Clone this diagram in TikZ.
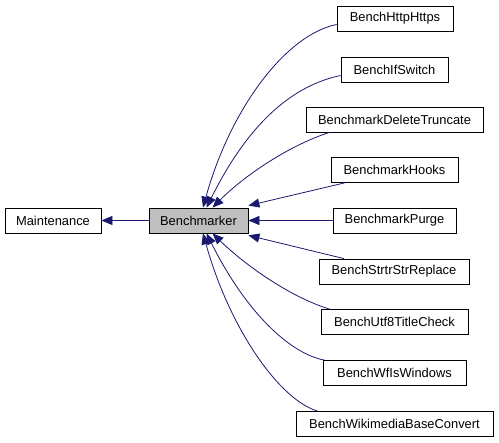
\documentclass[tikz,border=0pt]{standalone}
\usepackage{fontspec}
\setmainfont{Liberation Sans}
\usetikzlibrary{arrows.meta}
\definecolor{edgeblue}{HTML}{191970}
\tikzset{
  box/.style={draw=black, line width=0.8pt, fill=white, minimum height=25pt, inner sep=0pt, font=\fontsize{12.9}{15}\selectfont},
  graybox/.style={box, fill=black!25},
  edge/.style={draw=edgeblue, line width=0.8pt, -{Triangle[length=11pt,width=9pt]}},
}
\begin{document}
\begin{tikzpicture}[x=1pt,y=-1pt]
\useasboundingbox (0,0) rectangle (499,443);
\node[box, minimum width=96pt] (mnt) at (53,220.5) {Maintenance};
\node[graybox, minimum width=99pt] (bm) at (198.5,220.5) {Benchmarker};
\node[box, minimum width=116pt] (http) at (395,18.5) {BenchHttpHttps};
\node[box, minimum width=107pt] (ifs) at (394.5,69.5) {BenchIfSwitch};
\node[box, minimum width=177pt] (del) at (394.5,119.5) {BenchmarkDeleteTruncate};
\node[box, minimum width=127pt] (hooks) at (394.5,170) {BenchmarkHooks};
\node[box, minimum width=123pt] (purge) at (394.5,220.5) {BenchmarkPurge};
\node[box, minimum width=150pt] (strtr) at (394,271.5) {BenchStrtrStrReplace};
\node[box, minimum width=147pt] (utf) at (394.5,322) {BenchUtf8TitleCheck};
\node[box, minimum width=143pt] (wfis) at (394.5,373) {BenchWfIsWindows};
\node[box, minimum width=197pt] (wiki) at (394.5,424) {BenchWikimediaBaseConvert};

\draw[edge] (bm.west) -- (mnt.east);
\draw[edge] ([yshift=-6pt]http.west) .. controls (285,35) and (230,110) .. ([xshift=4.5pt]bm.north);
\draw[edge] ([yshift=-6pt]ifs.west) .. controls (295,85) and (250,120) .. ([xshift=8pt]bm.north);
\draw[edge] ([xshift=-65pt]del.south) .. controls (290,145) and (245,175) .. ([xshift=14pt]bm.north);
\draw[edge] ([xshift=-50pt]hooks.south) -- ([yshift=2pt]bm.north east);
\draw[edge] (purge.west) -- (bm.east);
\draw[edge] ([xshift=-50pt]strtr.north) -- ([yshift=-2pt]bm.south east);
\draw[edge] ([xshift=-65pt]utf.north) .. controls (290,297) and (245,265) .. ([xshift=14pt]bm.south);
\draw[edge] ([xshift=-70pt]wfis.north) .. controls (295,355) and (250,320) .. ([xshift=8pt]bm.south);
\draw[edge] ([xshift=-77pt]wiki.north) .. controls (280,400) and (230,330) .. ([xshift=4.5pt]bm.south);
\end{tikzpicture}
\end{document}
